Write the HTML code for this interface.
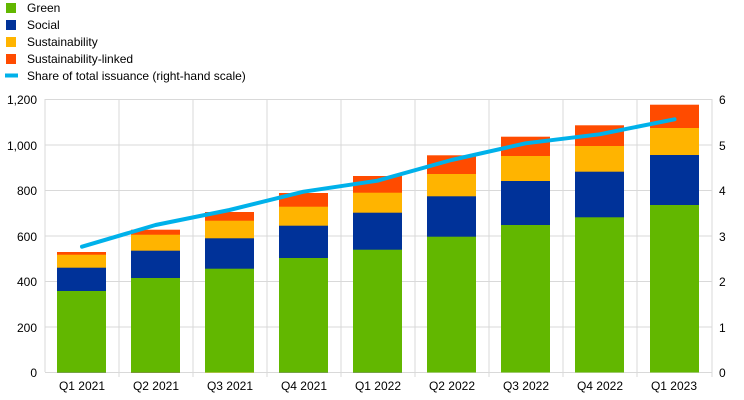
<!DOCTYPE html>
<html><head><meta charset="utf-8"><style>
body{margin:0;background:#fff}
svg{display:block;font-family:"Liberation Sans",Arial,sans-serif;font-size:12px;fill:#000}
</style></head><body>
<svg width="744" height="400" viewBox="0 0 744 400">
<g>
<rect x="6" y="3" width="10" height="10" fill="#62b700"/><text x="27" y="12">Green</text>
<rect x="6" y="20" width="10" height="10" fill="#003299"/><text x="27" y="29">Social</text>
<rect x="6" y="37" width="10" height="10" fill="#ffb400"/><text x="27" y="46">Sustainability</text>
<rect x="6" y="54" width="10" height="10" fill="#ff4b00"/><text x="27" y="63">Sustainability-linked</text>
<line x1="5" y1="75.5" x2="18" y2="75.5" stroke="#00b1ea" stroke-width="4"/><text x="27" y="80">Share of total issuance (right-hand scale)</text>
</g>
<g stroke="#d9d9d9" stroke-width="1">
<line x1="45" y1="99.5" x2="712" y2="99.5"/>
<line x1="45" y1="145" x2="712" y2="145"/>
<line x1="45" y1="190.5" x2="712" y2="190.5"/>
<line x1="45" y1="236" x2="712" y2="236"/>
<line x1="45" y1="281.5" x2="712" y2="281.5"/>
<line x1="45" y1="327" x2="712" y2="327"/>
<line x1="45" y1="372.5" x2="712" y2="372.5"/>
<line x1="45" y1="99" x2="45" y2="372"/>
<line x1="119" y1="99" x2="119" y2="377"/>
<line x1="193" y1="99" x2="193" y2="377"/>
<line x1="267" y1="99" x2="267" y2="377"/>
<line x1="341" y1="99" x2="341" y2="377"/>
<line x1="415" y1="99" x2="415" y2="377"/>
<line x1="489" y1="99" x2="489" y2="377"/>
<line x1="563" y1="99" x2="563" y2="377"/>
<line x1="637" y1="99" x2="637" y2="377"/>
<line x1="712" y1="99" x2="712" y2="377"/>
</g>
<g id="bars"></g>
<g stroke="none">
<!-- bars: x, red top, yellow top, blue top, green top -->
<rect x="57" y="252" width="49" height="120" fill="#ff4b00"/><rect x="57" y="254.7" width="49" height="118" fill="#ffb400"/><rect x="57" y="267.7" width="49" height="105" fill="#003299"/><rect x="57" y="291" width="49" height="81.5" fill="#62b700"/>
<rect x="131" y="229.7" width="49" height="143" fill="#ff4b00"/><rect x="131" y="234.7" width="49" height="138" fill="#ffb400"/><rect x="131" y="250.7" width="49" height="122" fill="#003299"/><rect x="131" y="278" width="49" height="94.5" fill="#62b700"/>
<rect x="205" y="212" width="49" height="160.5" fill="#ff4b00"/><rect x="205" y="220.7" width="49" height="152" fill="#ffb400"/><rect x="205" y="238.3" width="49" height="134" fill="#003299"/><rect x="205" y="268.7" width="49" height="103.8" fill="#62b700"/>
<rect x="279" y="193" width="49" height="179.5" fill="#ff4b00"/><rect x="279" y="206.7" width="49" height="166" fill="#ffb400"/><rect x="279" y="225.7" width="49" height="147" fill="#003299"/><rect x="279" y="258" width="49" height="114.5" fill="#62b700"/>
<rect x="353" y="176" width="49" height="196.5" fill="#ff4b00"/><rect x="353" y="192.7" width="49" height="180" fill="#ffb400"/><rect x="353" y="212.7" width="49" height="160" fill="#003299"/><rect x="353" y="249.7" width="49" height="122.8" fill="#62b700"/>
<rect x="427" y="155.3" width="49" height="217.2" fill="#ff4b00"/><rect x="427" y="174" width="49" height="198.5" fill="#ffb400"/><rect x="427" y="196.3" width="49" height="176.2" fill="#003299"/><rect x="427" y="236.7" width="49" height="135.8" fill="#62b700"/>
<rect x="501" y="136.7" width="49" height="235.8" fill="#ff4b00"/><rect x="501" y="156" width="49" height="216.5" fill="#ffb400"/><rect x="501" y="181" width="49" height="191.5" fill="#003299"/><rect x="501" y="225" width="49" height="147.5" fill="#62b700"/>
<rect x="575" y="125.3" width="49" height="247.2" fill="#ff4b00"/><rect x="575" y="146" width="49" height="226.5" fill="#ffb400"/><rect x="575" y="171.7" width="49" height="200.8" fill="#003299"/><rect x="575" y="217.3" width="49" height="155.2" fill="#62b700"/>
<rect x="650" y="104.7" width="49" height="267.8" fill="#ff4b00"/><rect x="650" y="128" width="49" height="244.5" fill="#ffb400"/><rect x="650" y="155" width="49" height="217.5" fill="#003299"/><rect x="650" y="205" width="49" height="167.5" fill="#62b700"/>
</g>
<polyline fill="none" stroke="#00b1ea" stroke-width="4" stroke-linecap="round" stroke-linejoin="round"
points="82,246.7 155.5,225 229.5,210 303.5,191.7 377.5,180.7 451.5,160 525.5,143.3 599.5,134.3 674.5,119.3"/>
<g text-anchor="end">
<text x="37" y="104">1,200</text><text x="37" y="150">1,000</text><text x="37" y="195">800</text>
<text x="37" y="241">600</text><text x="37" y="286">400</text><text x="37" y="332">200</text><text x="37" y="377">0</text>
</g>
<g>
<text x="719" y="104">6</text><text x="719" y="150">5</text><text x="719" y="195">4</text><text x="719" y="241">3</text>
<text x="719" y="286">2</text><text x="719" y="332">1</text><text x="719" y="377">0</text>
</g>
<g text-anchor="middle">
<text x="82" y="390">Q1 2021</text><text x="156" y="390">Q2 2021</text><text x="230" y="390">Q3 2021</text>
<text x="304" y="390">Q4 2021</text><text x="378" y="390">Q1 2022</text><text x="452" y="390">Q2 2022</text>
<text x="526" y="390">Q3 2022</text><text x="600" y="390">Q4 2022</text><text x="674" y="390">Q1 2023</text>
</g>
</svg>
</body></html>
